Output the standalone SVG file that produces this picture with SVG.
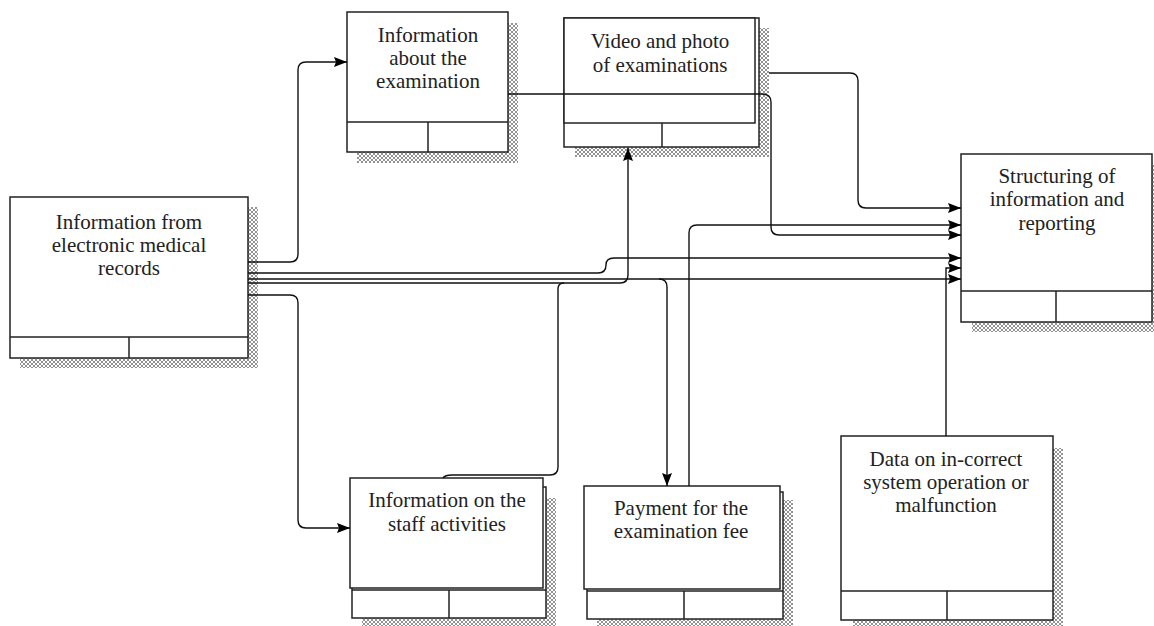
<svg xmlns="http://www.w3.org/2000/svg" width="1154" height="626" viewBox="0 0 1154 626">
<style>
.box{fill:#fff;stroke:#222;stroke-width:1.5}
.ln{fill:none;stroke:#222;stroke-width:1.5}
.sh{fill:url(#hatch);stroke:none}
.cn{fill:none;stroke:#111;stroke-width:1.4}
text{font-family:"Liberation Serif","Times New Roman",serif;font-size:21px;fill:#222;text-anchor:middle}
</style>
<defs>
<pattern id="hatch" width="4" height="4" patternUnits="userSpaceOnUse">
<rect width="4" height="4" fill="#fff"/>
<path d="M0,0 L4,4 M4,0 L0,4" stroke="#777" stroke-width="0.8"/>
</pattern>
<marker id="arr" markerWidth="14" markerHeight="10" refX="13" refY="5" orient="auto" markerUnits="userSpaceOnUse">
<path d="M0,0 L13,5 L0,10 L2,5 Z" fill="#000"/>
</marker>
</defs>

<g id="node-emr">
<rect class="sh" x="20" y="207" width="238" height="161"/>
<rect class="box" x="10" y="197" width="238" height="161"/>
<path class="ln" d="M10,337 H248 M129,337 V358"/>
<text x="129" y="229">Information from</text>
<text x="129" y="252">electronic medical</text>
<text x="129" y="275">records</text>
</g>

<g id="node-exam">
<rect class="sh" x="357" y="23" width="161" height="140"/>
<rect class="box" x="347" y="12" width="161" height="140"/>
<path class="ln" d="M347,122 H508 M428,122 V152"/>
<text x="428" y="42">Information</text>
<text x="428" y="65">about the</text>
<text x="428" y="88">examination</text>
</g>

<g id="node-video">
<rect class="sh" x="575" y="28" width="194" height="129"/>
<rect class="box" x="564" y="18" width="195" height="129"/>
<rect class="box" x="564" y="18" width="191" height="105"/>
<path class="ln" d="M662,123 V147"/>
<text x="660" y="48">Video and photo</text>
<text x="660" y="72">of examinations</text>
</g>

<g id="node-struct">
<rect class="sh" x="972" y="165" width="190" height="167"/>
<rect class="box" x="961" y="154" width="191" height="168"/>
<path class="ln" d="M961,291 H1152 M1056,291 V322"/>
<text x="1057" y="183">Structuring of</text>
<text x="1057" y="206">information and</text>
<text x="1057" y="230">reporting</text>
</g>

<g id="node-staff">
<rect class="sh" x="362" y="498" width="194" height="130"/>
<rect class="box" x="352" y="487" width="194" height="131"/>
<rect class="box" x="350" y="478" width="193" height="110"/>
<path class="ln" d="M352,590 H546 M449,590 V618"/>
<text x="447" y="507">Information on the</text>
<text x="447" y="531">staff activities</text>
</g>

<g id="node-payment">
<rect class="sh" x="597" y="500" width="196" height="129"/>
<rect class="box" x="587" y="492" width="196" height="127"/>
<rect class="box" x="584" y="486" width="196" height="103"/>
<path class="ln" d="M587,591 H783 M684,591 V619"/>
<text x="681" y="515">Payment for the</text>
<text x="681" y="538">examination fee</text>
</g>

<g id="node-data">
<rect class="sh" x="853" y="448" width="210" height="182"/>
<rect class="box" x="841" y="436" width="212" height="184"/>
<path class="ln" d="M841,591 H1053 M947,591 V620"/>
<text x="946" y="466">Data on in-correct</text>
<text x="946" y="489">system operation or</text>
<text x="946" y="512">malfunction</text>
</g>

<g id="connectors">
<path class="cn" d="M248,262 H290 Q298,262 298,254 V70 Q298,62 306,62 H347" marker-end="url(#arr)"/>
<path class="cn" d="M248,273 H598 Q606,273 606,265 Q606,258 614,258 H961" marker-end="url(#arr)"/>
<path class="cn" d="M248,279 H961" marker-end="url(#arr)"/>
<path class="cn" d="M659,279 Q667,279 667,287 V486" marker-end="url(#arr)"/>
<path class="cn" d="M248,283 H620 Q628,283 628,275 V148" marker-end="url(#arr)"/>
<path class="cn" d="M248,295 H290 Q298,295 298,303 V520 Q298,528 306,528 H350" marker-end="url(#arr)"/>
<path class="cn" d="M443,478 Q445,475 452,475 H550 Q558,475 558,467 V289 Q558,283 564,283"/>
<path class="cn" d="M508,94 H762 Q771,94 771,102 V227 Q771,235 779,235 H961" marker-end="url(#arr)"/>
<path class="cn" d="M769,73 H850 Q858,73 858,81 V200 Q858,208 866,208 H961" marker-end="url(#arr)"/>
<path class="cn" d="M689,486 V233 Q689,225 697,225 H961" marker-end="url(#arr)"/>
<path class="cn" d="M946,436 V268 H961" marker-end="url(#arr)"/>
</g>
</svg>
